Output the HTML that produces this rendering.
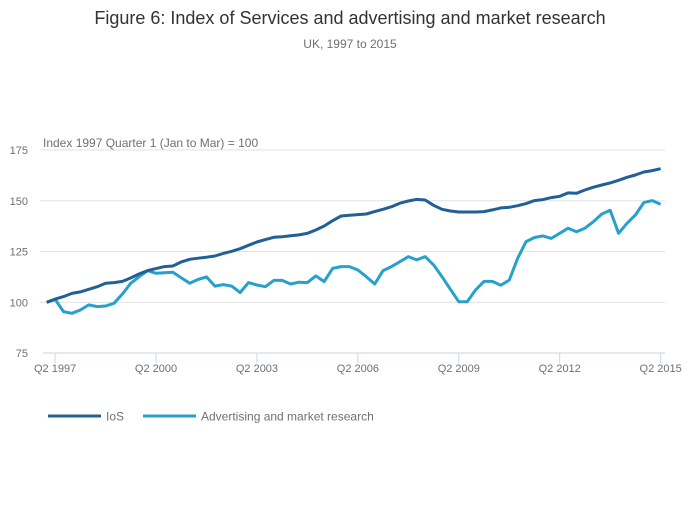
<!DOCTYPE html>
<html><head><meta charset="utf-8"><style>
body{margin:0;background:#fff;font-family:"Liberation Sans",sans-serif;}
svg text{font-family:"Liberation Sans",sans-serif;}
</style></head><body>
<svg id="chart" width="700" height="502">
<text x="350" y="24" text-anchor="middle" font-size="18" fill="#333">Figure 6: Index of Services and advertising and market research</text>
<text x="350" y="48" text-anchor="middle" font-size="12" fill="#707070">UK, 1997 to 2015</text>
<text x="43" y="147" font-size="12" fill="#707070">Index 1997 Quarter 1 (Jan to Mar) = 100</text>
<g id="grid"></g><g id="xaxis"></g><g id="lines"></g>
<g>
<line x1="48" y1="416" x2="101" y2="416" stroke="#206095" stroke-width="3"/>
<text x="106" y="420.5" font-size="12" fill="#707070">IoS</text>
<line x1="143" y1="416" x2="196" y2="416" stroke="#27a0cc" stroke-width="3"/>
<text x="201" y="420.5" font-size="12" fill="#707070">Advertising and market research</text>
</g>
</svg>
<script>
const yTicks=[75,100,125,150,175];
const xTickIdx=[1,13,25,37,49,61,73];
const xTickLabels=["Q2 1997","Q2 2000","Q2 2003","Q2 2006","Q2 2009","Q2 2012","Q2 2015"];
const ios=[100,101.6,102.8,104.4,105.1,106.4,107.7,109.4,109.7,110.3,112,114,115.6,116.6,117.6,117.9,119.9,121.2,121.7,122.2,122.8,124.1,125.1,126.4,128.1,129.7,130.9,132,132.3,132.8,133.2,134,135.6,137.6,140.2,142.5,142.9,143.2,143.5,144.7,145.8,147.1,148.8,149.9,150.7,150.4,147.8,145.8,145,144.5,144.5,144.5,144.7,145.5,146.5,146.8,147.6,148.6,150.1,150.6,151.6,152.2,153.9,153.7,155.3,156.7,157.8,158.8,160.1,161.6,162.7,164.2,164.9,165.8];
const adv=[100,101.5,95.4,94.6,96.2,98.7,97.9,98.2,99.5,104.1,109.4,112.6,115.6,114.3,114.6,114.8,112,109.4,111.3,112.5,108,108.7,108,104.8,109.7,108.5,107.7,110.8,110.8,109,109.9,109.7,113,110.2,116.7,117.6,117.6,115.9,112.6,109,115.6,117.6,120,122.5,120.9,122.5,118.4,112.6,106.4,100.3,100.3,106.1,110.3,110.3,108.4,111,121.7,129.9,131.9,132.7,131.5,134,136.5,134.8,136.5,139.7,143.5,145.3,134,138.9,143,149.1,150.1,148.3];
const NS="http://www.w3.org/2000/svg";
const xs=i=>46.7+i*8.41;
const ys=v=>302.3-(v-100)*2.03;
function mk(t,a,p){const e=document.createElementNS(NS,t);for(const k in a)e.setAttribute(k,a[k]);p.appendChild(e);return e;}
const grid=document.getElementById('grid'),xa=document.getElementById('xaxis'),ln=document.getElementById('lines');
yTicks.forEach(v=>{
  if(v!==75){const g=mk('line',{x1:40,x2:665,y1:ys(v),y2:ys(v),stroke:'#e2e2e2','stroke-width':1},grid);
  
  }
  const t=mk('text',{x:28,y:ys(v)+4,'text-anchor':'end','font-size':11,fill:'#707070'},grid);t.textContent=v;
  
  
});
const ax=mk('line',{x1:43,x2:665,y1:ys(75),y2:ys(75),stroke:'#c8d6e8','stroke-width':1},xa);


xTickIdx.forEach((q,k)=>{
  const tk=mk('line',{x1:xs(q),x2:xs(q),y1:ys(75),y2:ys(75)+10,stroke:'#c8d6e8'},xa);
  
  
  const t=mk('text',{x:xs(q),y:372,'text-anchor':'middle','font-size':11,fill:'#707070'},xa);t.textContent=xTickLabels[k];
  
  
});
function line(d,c,name){const p=mk('path',{d:d.map((v,i)=>(i?'L':'M')+xs(i).toFixed(1)+','+ys(v).toFixed(1)).join(''),fill:'none',stroke:c,'stroke-width':3,'stroke-linejoin':'round'},ln);

}
line(adv,'#27a0cc','series-advertising-line');
line(ios,'#206095','series-ios-line');
</script>
</body></html>
